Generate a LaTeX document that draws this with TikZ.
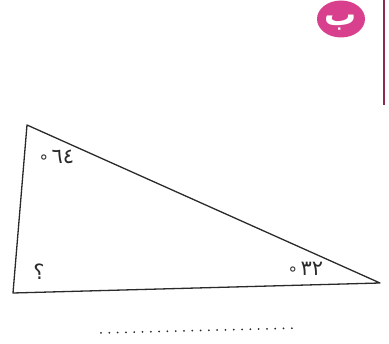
\documentclass[tikz,border=0pt]{standalone}
\usepackage{fontspec}
\usetikzlibrary{shapes.geometric}
\newfontfamily\arabicfont[Script=Arabic]{DejaVu Sans}
\TeXXeTstate=1
\definecolor{badge}{HTML}{D8408E}
\definecolor{edgeline}{HTML}{8C2A55}
\definecolor{ink}{HTML}{2A2A2A}
\newcommand{\degmark}{\raisebox{-0.35ex}{\fontsize{17}{17}\selectfont°}}
\begin{document}
\begin{tikzpicture}[x=1pt,y=-1pt,
  side/.style={draw=ink,line width=1.3pt,line join=round},
  anglelbl/.style={font=\arabicfont\fontsize{21}{21}\selectfont,text=ink,inner sep=0pt}]
\useasboundingbox (0,0) rectangle (389,344);
% right edge line
\draw[edgeline,line width=1.3pt] (384,0) -- (384,105);
% badge
\node[ellipse,fill=badge,minimum width=48pt,minimum height=37pt,inner sep=0pt] (badge) at (341,19) {};
\node[font=\arabicfont\bfseries\fontsize{32}{32}\selectfont,text=white,inner sep=0pt,anchor=base] (letter) at (341,26) {\beginR ب\endR};
% triangle
\coordinate (A) at (27,125);
\coordinate (B) at (13,293);
\coordinate (C) at (380,283);
\draw[side] (A) -- (B) -- (C) -- cycle;
% labels
\node[anglelbl] (la) at (57,159) {\degmark\,٦٤};
\node[anglelbl] (lb) at (39,272) {\beginR ؟\endR};
\node[anglelbl] (lc) at (306,271) {\degmark\,٣٢};
% answer line
\coordinate (d1) at (101,333);
\coordinate (d2) at (300,328);
\draw[ink,line width=2pt,line cap=round,dash pattern=on 0pt off 8.3pt] (d1) -- (d2);
\end{tikzpicture}
\end{document}
